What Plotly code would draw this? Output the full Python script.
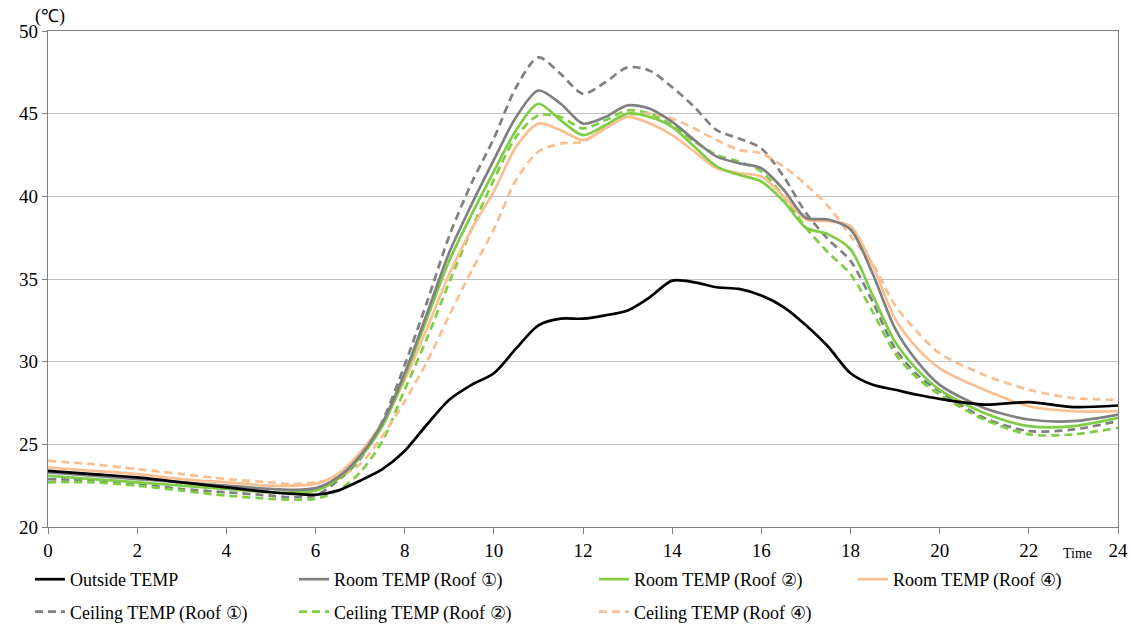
import plotly.graph_objects as go

hours = [0, 1, 2, 3, 4, 5, 5.5, 6, 6.5, 7, 7.5, 8, 8.5, 9, 9.5, 10, 10.5, 11, 11.5, 12,
         12.5, 13, 13.5, 14, 14.5, 15, 15.5, 16, 16.5, 17, 17.5, 18, 18.5, 19, 19.5, 20,
         21, 22, 23, 24]

outside = [23.4, 23.2, 23.0, 22.7, 22.4, 22.1, 22.0, 21.95, 22.2, 22.8, 23.5, 24.6, 26.2, 27.7,
           28.6, 29.3, 30.8, 32.2, 32.6, 32.6, 32.8, 33.1, 33.9, 34.9, 34.8, 34.5, 34.4, 34.0,
           33.3, 32.2, 30.9, 29.3, 28.6, 28.3, 28.0, 27.75, 27.4, 27.55, 27.25, 27.35]

room1 = [23.3, 23.1, 22.9, 22.7, 22.5, 22.3, 22.25, 22.35, 23.0, 24.3, 26.3, 29.3, 32.9, 36.6,
         39.5, 42.2, 44.8, 46.4, 45.6, 44.4, 44.8, 45.5, 45.3, 44.5, 43.4, 42.4, 42.0, 41.7,
         40.4, 38.7, 38.6, 38.0, 35.3, 32.0, 30.0, 28.6, 27.2, 26.5, 26.4, 26.8]

room2 = [23.1, 22.9, 22.7, 22.5, 22.3, 22.1, 22.1, 22.2, 22.9, 24.2, 26.1, 29.1, 32.6, 36.1,
         38.9, 41.5, 44.0, 45.6, 44.6, 43.7, 44.3, 45.0, 44.8, 44.2, 43.0, 41.8, 41.3, 40.9,
         39.7, 38.1, 37.7, 36.8, 34.0, 31.2, 29.5, 28.3, 26.9, 26.1, 26.1, 26.6]

room4 = [23.6, 23.4, 23.2, 22.9, 22.7, 22.5, 22.5, 22.6, 23.2, 24.5, 26.3, 28.9, 32.0, 35.3,
         38.0, 40.3, 43.0, 44.4, 44.0, 43.4, 44.1, 44.8, 44.4, 43.7, 42.7, 41.7, 41.4, 41.2,
         40.0, 38.6, 38.5, 38.2, 35.8, 32.6, 30.8, 29.6, 28.3, 27.3, 27.0, 27.0]

ceil1 = [22.9, 22.8, 22.6, 22.3, 22.1, 21.9, 21.8, 21.9, 22.8, 24.1, 26.4, 29.8, 33.6, 37.6,
         40.8, 43.5, 46.6, 48.4, 47.4, 46.2, 46.9, 47.8, 47.6, 46.6, 45.4, 44.0, 43.5, 42.9,
         41.2, 39.0, 37.4, 36.1, 33.6, 30.8, 29.2, 28.2, 26.6, 25.8, 25.9, 26.4]

ceil2 = [22.7, 22.7, 22.5, 22.2, 21.9, 21.7, 21.65, 21.7, 22.2, 23.3, 25.2, 28.3, 31.4, 34.8,
         38.0, 41.0, 43.6, 44.9, 44.8, 44.1, 44.6, 45.2, 45.0, 44.3, 43.3, 42.5, 42.1, 41.5,
         40.0, 38.1, 36.6, 35.3, 33.0, 30.5, 29.0, 28.0, 26.5, 25.6, 25.6, 26.0]

ceil4 = [24.0, 23.8, 23.5, 23.2, 22.9, 22.7, 22.6, 22.7, 23.0, 23.8, 25.5, 27.6, 30.0, 32.8,
         35.5, 38.0, 41.0, 42.7, 43.2, 43.3, 44.2, 44.9, 45.0, 44.7, 44.1, 43.4, 42.8, 42.6,
         41.8, 40.7, 39.4, 37.6, 35.9, 33.4, 31.8, 30.5, 29.2, 28.3, 27.8, 27.7]

x_ticks = [0, 2, 4, 6, 8, 10, 12, 14, 16, 18, 20, 22, 24]
y_ticks = [20, 25, 30, 35, 40, 45, 50]

GRAY = "#808080"
GREEN = "#7fcc45"
ORANGE = "#f9bf91"
FONT = "Liberation Serif"

series = [
    ("Outside TEMP", outside, "#000000", "solid", "legend"),
    ("Ceiling TEMP (Roof ①)", ceil1, GRAY, "8px,5px", "legend"),
    ("Room TEMP (Roof ①)", room1, GRAY, "solid", "legend2"),
    ("Ceiling TEMP (Roof ②)", ceil2, GREEN, "8px,5px", "legend2"),
    ("Room TEMP (Roof ②)", room2, GREEN, "solid", "legend3"),
    ("Ceiling TEMP (Roof ④)", ceil4, ORANGE, "8px,5px", "legend3"),
    ("Room TEMP (Roof ④)", room4, ORANGE, "solid", "legend4"),
]

fig = go.Figure()
draw_order = [1, 3, 5, 6, 4, 2, 0]
for i in draw_order:
    name, vals, col, dash, lg = series[i]
    fig.add_trace(go.Scatter(
        x=hours, y=vals, name=name, mode="lines",
        line=dict(color=col, width=2.7, dash=dash, shape="spline", smoothing=0.8),
        legend=lg, legendgroup=name, legendrank=i,
    ))

W, H = 1131, 627
L, R, T, B = 48, 13, 31, 100
pw, ph = W - L - R, H - T - B

def px2paper_x(px):
    return (px - L) / pw

def py2paper_y(py):
    return (H - B - py) / ph

leg_common = dict(
    orientation="v", xanchor="left", yanchor="top",
    font=dict(family=FONT, size=18, color="#000000"),
    bgcolor="rgba(0,0,0,0)", tracegroupgap=6, itemwidth=30,
    traceorder="grouped",
)
ytop = py2paper_y(561)
fig.update_layout(
    width=W, height=H,
    margin=dict(l=L, r=R, t=T, b=B, autoexpand=False),
    paper_bgcolor="white", plot_bgcolor="white",
    font=dict(family=FONT, size=19, color="#000000"),
    showlegend=True,
    legend=dict(x=px2paper_x(30), y=ytop, **leg_common),
    legend2=dict(x=px2paper_x(294), y=ytop, **leg_common),
    legend3=dict(x=px2paper_x(594), y=ytop, **leg_common),
    legend4=dict(x=px2paper_x(853), y=ytop, **leg_common),
    xaxis=dict(
        range=[0, 24], tickvals=x_ticks, ticktext=[str(v) for v in x_ticks],
        showgrid=False, zeroline=False, showline=True, linecolor="#7f7f7f", linewidth=1.3,
        mirror=True, ticks="outside", ticklen=6, tickcolor="#7f7f7f",
        tickfont=dict(family=FONT, size=19, color="#000000"),
    ),
    yaxis=dict(
        range=[20, 50], tickvals=y_ticks, ticktext=[str(v) for v in y_ticks],
        showgrid=True, gridcolor="#c0c0c0", gridwidth=1.2, zeroline=False,
        showline=True, linecolor="#7f7f7f", linewidth=1.3, mirror=True,
        ticks="outside", ticklen=5, tickcolor="#7f7f7f",
        tickfont=dict(family=FONT, size=19, color="#000000"),
    ),
    annotations=[
        dict(text="(℃)", xref="paper", yref="paper", x=px2paper_x(33), y=py2paper_y(4),
             xanchor="left", yanchor="top", showarrow=False,
             font=dict(family=FONT, size=18, color="#000000")),
        dict(text="Time", xref="paper", yref="paper", x=px2paper_x(1077), y=py2paper_y(553),
             xanchor="center", yanchor="middle", showarrow=False,
             font=dict(family=FONT, size=14, color="#000000")),
    ],
)

fig.write_html("out.html")
